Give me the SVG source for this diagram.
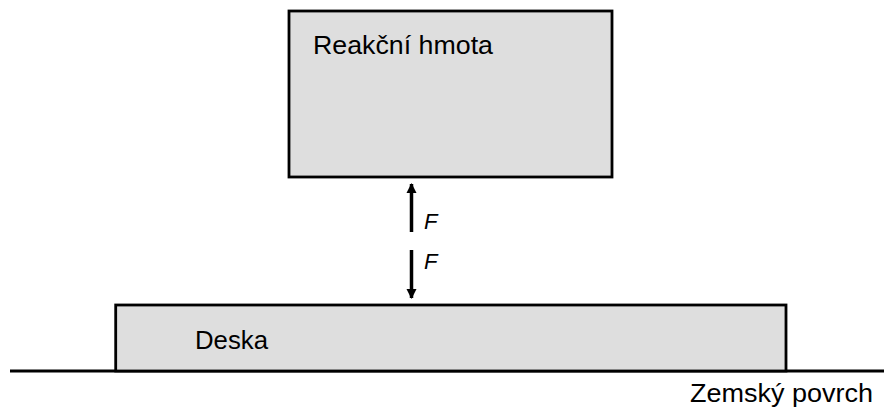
<svg xmlns="http://www.w3.org/2000/svg" width="884" height="410" viewBox="0 0 884 410">
<style>
.box{fill:#dedede;stroke:#000;stroke-width:2.8}
.lbl{font-family:"Liberation Sans",Arial,sans-serif;font-size:25px;fill:#000}
.f{font-family:"Liberation Sans",Arial,sans-serif;font-size:22px;font-style:italic;fill:#000}
.ar{stroke:#000;stroke-width:3.5;fill:none}
</style>
<defs>
<marker id="ah" viewBox="0 0 10 10" refX="9" refY="5" markerWidth="3" markerHeight="3.4" markerUnits="strokeWidth" orient="auto">
<path d="M0,0 L10,5 L0,10 z" fill="#000"/>
</marker>
</defs>
<rect width="884" height="410" fill="#fff"/>
<g id="ground">
<line x1="10" y1="371" x2="884" y2="371" stroke="#000" stroke-width="2.8"/>
<text class="lbl" x="690" y="402" textLength="183" lengthAdjust="spacingAndGlyphs">Zemský povrch</text>
</g>
<g id="reakcni-hmota">
<rect class="box" x="289" y="11" width="323" height="166"/>
<text class="lbl" x="313" y="54" textLength="180" lengthAdjust="spacingAndGlyphs">Reakční hmota</text>
</g>
<g id="deska">
<rect class="box" x="115.7" y="305" width="670.3" height="66"/>
<text class="lbl" x="195" y="349" textLength="73" lengthAdjust="spacingAndGlyphs">Deska</text>
</g>
<g id="connectors">
<line class="ar" x1="411.5" y1="232" x2="411.5" y2="184" marker-end="url(#ah)"/>
<line class="ar" x1="411.5" y1="250" x2="411.5" y2="298" marker-end="url(#ah)"/>
<text class="f" x="424" y="229">F</text>
<text class="f" x="424" y="269">F</text>
</g>
</svg>
